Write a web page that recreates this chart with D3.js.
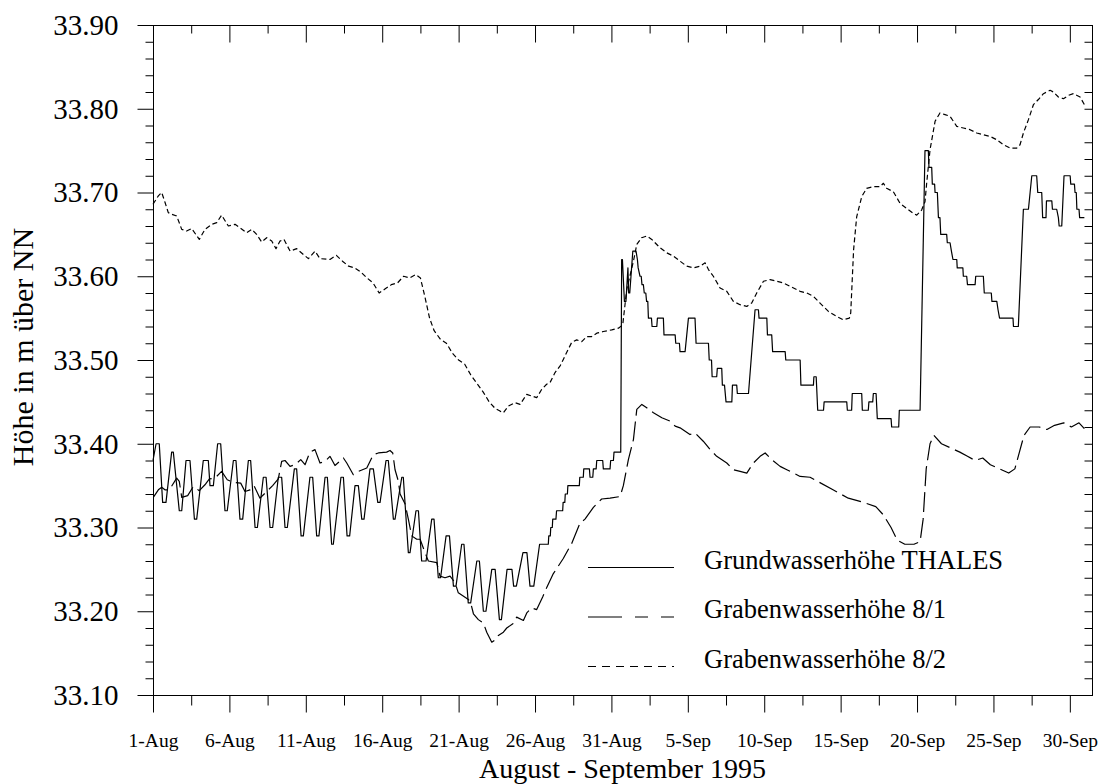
<!DOCTYPE html>
<html>
<head>
<meta charset="utf-8">
<title>Grundwasser- und Grabenwasserhöhe, August - September 1995</title>
<script src="https://cdn.jsdelivr.net/npm/d3@7"></script>
<style>
  body { margin: 0; background: #fff; }
  svg { display: block; font-family: "Liberation Serif", "Times New Roman", serif; }
</style>
</head>
<body>
<script>
// day offsets from 1 August 1995, 0:00
const dayTicks = [0, 5, 10, 15, 20, 25, 30, 35, 40, 45, 50, 55, 60];
const dateLabels = ["1-Aug", "6-Aug", "11-Aug", "16-Aug", "21-Aug", "26-Aug", "31-Aug",
    "5-Sep", "10-Sep", "15-Sep", "20-Sep", "25-Sep", "30-Sep"];
const levelTicks = [33.10, 33.20, 33.30, 33.40, 33.50, 33.60, 33.70, 33.80, 33.90];

const seriesNames = ["Grundwasserhöhe THALES", "Grabenwasserhöhe 8/1", "Grabenwasserhöhe 8/2"];

// [day, level in m]
const thales = [
    [0.00,33.38],[0.20,33.40],[0.41,33.40],[0.63,33.33],[0.85,33.33],[1.22,33.39],[1.33,33.39],
    [1.72,33.32],[1.88,33.32],[2.16,33.38],[2.42,33.38],[2.71,33.31],[2.86,33.31],[3.29,33.38],
    [3.62,33.38],[3.73,33.35],[3.95,33.35],[4.23,33.40],[4.43,33.40],[4.71,33.32],[4.86,33.32],
    [5.26,33.38],[5.43,33.38],[5.69,33.31],[5.87,33.31],[6.24,33.38],[6.39,33.38],[6.68,33.30],
    [6.83,33.30],[7.22,33.36],[7.40,33.36],[7.66,33.30],[7.83,33.30],[8.20,33.36],[8.42,33.36],
    [8.64,33.30],[8.79,33.30],[9.25,33.37],[9.40,33.37],[9.69,33.29],[9.84,33.29],[10.27,33.36],
    [10.45,33.36],[10.71,33.29],[10.86,33.29],[11.26,33.36],[11.41,33.36],[11.69,33.28],[11.80,33.28],
    [12.30,33.36],[12.46,33.36],[12.70,33.29],[12.87,33.29],[13.22,33.35],[13.44,33.35],[13.66,33.31],
    [13.81,33.31],[14.20,33.37],[14.42,33.37],[14.71,33.33],[14.86,33.33],[15.25,33.38],[15.40,33.38],
    [15.73,33.31],[15.84,33.31],[16.28,33.36],[16.38,33.36],[16.71,33.27],[16.82,33.27],[17.21,33.32],
    [17.37,33.32],[17.58,33.26],[17.87,33.26],[18.24,33.31],[18.39,33.31],[18.67,33.24],[18.82,33.24],
    [19.18,33.29],[19.40,33.29],[19.66,33.23],[19.83,33.23],[20.20,33.28],[20.35,33.28],[20.63,33.21],
    [20.79,33.21],[21.19,33.26],[21.36,33.26],[21.62,33.20],[21.79,33.20],[22.17,33.25],[22.39,33.25],
    [22.67,33.19],[22.80,33.19],[23.17,33.25],[23.49,33.25],[23.60,33.23],[23.78,33.23],[24.21,33.27],
    [24.47,33.27],[24.67,33.23],[24.92,33.23],[25.30,33.28],[25.87,33.28],[25.90,33.29],[26.00,33.29],
    [26.03,33.30],[26.13,33.30],[26.16,33.31],[26.37,33.31],[26.41,33.32],[26.81,33.32],[26.84,33.33],
    [26.95,33.33],[26.98,33.34],[27.12,33.34],[27.15,33.35],[27.90,33.35],[27.93,33.36],[28.16,33.36],
    [28.19,33.37],[28.56,33.37],[28.60,33.36],[28.78,33.36],[28.82,33.37],[29.00,33.37],[29.04,33.38],
    [29.43,33.38],[29.47,33.37],[29.91,33.37],[29.95,33.38],[30.13,33.38],[30.17,33.39],[30.61,33.39],
    [30.67,33.62],[30.72,33.62],[30.85,33.57],[30.95,33.57],[31.08,33.61],[31.13,33.58],[31.20,33.58],
    [31.40,33.63],[31.61,33.63],[31.70,33.62],[31.75,33.61],[31.87,33.60],[31.95,33.60],[32.00,33.59],
    [32.09,33.59],[32.15,33.58],[32.25,33.58],[32.30,33.57],[32.38,33.57],[32.42,33.55],[32.62,33.55],
    [32.66,33.54],[32.97,33.54],[33.01,33.55],[33.40,33.55],[33.44,33.53],[34.17,33.53],[34.21,33.52],
    [34.45,33.52],[34.49,33.51],[34.82,33.51],[35.04,33.55],[35.47,33.55],[35.54,33.52],[36.35,33.52],
    [36.40,33.50],[36.55,33.50],[36.59,33.48],[36.89,33.48],[36.93,33.49],[37.22,33.49],[37.26,33.47],
    [37.40,33.47],[37.50,33.45],[37.88,33.45],[37.92,33.47],[38.20,33.47],[38.24,33.46],[38.97,33.46],
    [39.40,33.56],[39.62,33.56],[39.66,33.55],[40.17,33.55],[40.21,33.53],[40.49,33.53],[40.55,33.51],
    [41.37,33.51],[41.41,33.50],[42.35,33.50],[42.40,33.47],[43.22,33.47],[43.25,33.48],[43.40,33.48],
    [43.50,33.44],[43.88,33.44],[43.92,33.45],[45.40,33.45],[45.44,33.44],[45.72,33.44],[45.76,33.46],
    [46.38,33.46],[46.42,33.44],[46.81,33.44],[46.85,33.45],[47.10,33.45],[47.14,33.46],[47.32,33.46],
    [47.40,33.43],[48.30,33.43],[48.34,33.42],[48.80,33.42],[48.84,33.44],[50.20,33.44],[50.52,33.75],
    [50.74,33.75],[50.78,33.73],[50.96,33.73],[51.00,33.71],[51.15,33.71],[51.18,33.70],[51.33,33.70],
    [51.40,33.67],[51.50,33.67],[51.55,33.65],[51.94,33.65],[51.98,33.64],[52.16,33.64],[52.25,33.63],
    [52.35,33.62],[52.60,33.62],[52.63,33.61],[53.00,33.61],[53.03,33.60],[53.25,33.60],[53.30,33.59],
    [53.80,33.59],[53.84,33.60],[54.34,33.60],[54.40,33.58],[54.86,33.58],[54.90,33.57],[55.22,33.57],
    [55.30,33.56],[55.40,33.55],[56.28,33.55],[56.31,33.54],[56.63,33.54],[56.96,33.68],[57.29,33.68],
    [57.40,33.70],[57.51,33.72],[57.83,33.72],[57.90,33.70],[58.16,33.70],[58.22,33.67],[58.44,33.67],
    [58.47,33.69],[58.82,33.69],[58.86,33.68],[59.14,33.68],[59.25,33.67],[59.30,33.66],[59.47,33.66],
    [59.62,33.72],[60.02,33.72],[60.06,33.71],[60.30,33.71],[60.34,33.70],[60.42,33.70],[60.46,33.68],
    [60.60,33.68],[60.64,33.67],[60.95,33.67]
];

const graben81 = [
    [0.02,33.336],[0.35,33.345],[0.57,33.348],[0.78,33.345],[1.07,33.345],[1.55,33.359],[1.72,33.355],
    [1.88,33.336],[2.27,33.338],[2.64,33.349],[3.03,33.344],[3.40,33.351],[3.69,33.358],[4.06,33.359],
    [4.49,33.367],[4.86,33.357],[5.26,33.354],[5.74,33.353],[6.02,33.343],[6.35,33.345],[6.61,33.350],
    [7.00,33.335],[7.44,33.343],[7.83,33.350],[8.20,33.358],[8.42,33.379],[8.64,33.380],[8.97,33.373],
    [9.29,33.375],[9.67,33.381],[9.95,33.375],[10.27,33.390],[10.60,33.393],[10.93,33.377],[11.26,33.379],
    [11.58,33.385],[11.91,33.374],[12.46,33.383],[12.68,33.377],[13.11,33.363],[13.44,33.367],[13.99,33.371],
    [14.42,33.387],[14.75,33.389],[15.29,33.390],[15.51,33.392],[15.69,33.389],[15.84,33.369],[16.06,33.355],
    [16.17,33.340],[16.50,33.328],[16.71,33.310],[16.93,33.290],[17.26,33.286],[17.48,33.286],[17.80,33.270],
    [18.02,33.260],[18.57,33.258],[18.78,33.242],[19.11,33.240],[19.44,33.242],[19.77,33.234],[19.98,33.222],
    [20.64,33.214],[20.79,33.210],[20.97,33.197],[21.29,33.190],[21.62,33.186],[21.84,33.175],[22.17,33.163],
    [22.49,33.167],[22.60,33.171],[22.93,33.175],[23.15,33.180],[23.55,33.185],[23.80,33.193],[24.24,33.189],
    [24.46,33.198],[24.78,33.204],[25.11,33.202],[25.50,33.217],[25.76,33.228],[26.20,33.245],[26.85,33.263],
    [27.40,33.281],[27.94,33.305],[28.27,33.310],[28.82,33.324],[29.36,33.334],[29.91,33.335],[30.57,33.337],
    [30.78,33.350],[31.11,33.381],[31.44,33.405],[31.66,33.441],[31.99,33.447],[32.31,33.443],[32.75,33.437],
    [33.30,33.431],[33.84,33.427],[34.17,33.421],[34.49,33.419],[35.14,33.411],[35.47,33.413],[36.01,33.403],
    [36.46,33.393],[36.89,33.385],[37.55,33.377],[37.98,33.369],[38.42,33.367],[38.86,33.365],[39.29,33.377],
    [39.73,33.385],[40.06,33.389],[40.49,33.381],[41.04,33.373],[41.48,33.369],[41.91,33.365],[42.35,33.361],
    [43.00,33.360],[43.50,33.355],[44.50,33.345],[45.50,33.335],[46.50,33.330],[47.30,33.325],[47.80,33.315],
    [48.30,33.300],[48.70,33.285],[49.20,33.280],[49.80,33.280],[50.20,33.283],[50.40,33.310],[50.60,33.370],
    [50.85,33.400],[51.10,33.410],[51.60,33.400],[52.20,33.395],[52.80,33.390],[53.30,33.385],[53.80,33.380],
    [54.30,33.383],[54.80,33.375],[55.40,33.370],[56.00,33.365],[56.40,33.370],[56.70,33.390],[57.00,33.410],
    [57.40,33.420],[58.00,33.420],[58.50,33.417],[59.00,33.422],[59.60,33.425],[60.10,33.420],[60.60,33.425],
    [60.95,33.418]
];

const graben82 = [
    [0.00,33.686],[0.35,33.696],[0.57,33.700],[0.79,33.688],[1.00,33.676],[1.22,33.674],[1.55,33.672],
    [1.88,33.656],[2.20,33.654],[2.53,33.657],[3.03,33.644],[3.40,33.656],[3.84,33.662],[4.17,33.664],
    [4.49,33.673],[4.93,33.660],[5.37,33.662],[5.69,33.658],[6.13,33.652],[6.46,33.656],[6.78,33.650],
    [7.11,33.641],[7.44,33.646],[7.77,33.642],[8.05,33.633],[8.31,33.642],[8.57,33.644],[8.97,33.630],
    [9.40,33.633],[9.84,33.626],[10.17,33.621],[10.60,33.630],[10.93,33.621],[11.58,33.620],[12.00,33.625],
    [12.40,33.618],[12.80,33.612],[13.20,33.610],[13.60,33.605],[14.00,33.598],[14.40,33.592],[14.80,33.580],
    [15.20,33.585],[15.60,33.590],[16.00,33.592],[16.40,33.600],[16.80,33.598],[17.20,33.602],[17.50,33.598],
    [17.80,33.575],[18.10,33.550],[18.40,33.535],[18.80,33.525],[19.20,33.520],[19.60,33.508],[20.00,33.500],
    [20.40,33.495],[20.80,33.482],[21.20,33.472],[21.60,33.462],[22.00,33.450],[22.40,33.442],[22.71,33.439],
    [22.93,33.437],[23.26,33.445],[23.69,33.449],[24.02,33.447],[24.46,33.459],[24.78,33.457],[25.11,33.455],
    [25.44,33.465],[25.76,33.471],[25.98,33.473],[26.31,33.485],[26.64,33.493],[26.86,33.501],[27.07,33.509],
    [27.40,33.521],[27.73,33.524],[28.06,33.522],[28.38,33.528],[28.71,33.528],[29.04,33.532],[29.47,33.534],
    [30.02,33.536],[30.46,33.538],[30.74,33.542],[31.00,33.584],[31.44,33.618],[31.66,33.638],[31.98,33.646],
    [32.31,33.648],[32.64,33.644],[33.18,33.634],[33.62,33.628],[34.06,33.624],[34.49,33.618],[34.93,33.612],
    [35.37,33.610],[35.80,33.612],[36.13,33.616],[36.35,33.608],[36.67,33.600],[37.11,33.586],[37.55,33.582],
    [37.98,33.570],[38.42,33.566],[38.86,33.564],[39.18,33.568],[39.51,33.580],[39.95,33.594],[40.38,33.596],
    [40.82,33.594],[41.26,33.592],[41.69,33.588],[42.35,33.582],[42.78,33.580],[43.22,33.576],[43.65,33.568],
    [44.20,33.558],[44.74,33.552],[45.18,33.548],[45.57,33.550],[45.66,33.556],[45.75,33.592],[45.85,33.632],
    [46.05,33.671],[46.38,33.695],[46.70,33.705],[47.14,33.707],[47.58,33.707],[47.80,33.711],[48.01,33.705],
    [48.45,33.701],[48.89,33.687],[49.32,33.681],[49.76,33.675],[49.98,33.673],[50.30,33.679],[50.52,33.689],
    [50.63,33.711],[50.85,33.751],[51.18,33.785],[51.50,33.795],[51.83,33.793],[52.16,33.791],[52.60,33.779],
    [53.03,33.777],[53.47,33.775],[53.91,33.771],[54.34,33.769],[54.78,33.767],[55.22,33.763],[55.65,33.757],
    [56.09,33.753],[56.52,33.753],[56.74,33.757],[56.96,33.771],[57.29,33.787],[57.62,33.805],[57.94,33.811],
    [58.27,33.818],[58.71,33.822],[58.92,33.820],[59.25,33.814],[59.58,33.812],[59.91,33.816],[60.23,33.818],
    [60.67,33.814],[60.95,33.805]
];

const width = 1101;
const height = 784;
const plotLeft = 153, plotRight = 1092, plotTop = 25, plotBottom = 695;

const svg = d3.select("body")
    .append("svg")
    .attr("width", width)
    .attr("height", height);

const x = d3.scaleLinear().domain([0, 61.45]).range([plotLeft, plotRight]);
const y = d3.scaleLinear().domain([33.10, 33.90]).range([plotBottom, plotTop]);

const dayMinor = dayTicks.map(d => d + 2.5).filter(d => d < 61.45);
const levelAll = d3.range(0, 41).map(i => 33.10 + i * 0.02);
const levelMinor = levelAll.filter(v => levelTicks.every(t => Math.abs(t - v) > 1e-6));

// axes keep the page serif font and black ticks, no domain path
const styleAxis = g => {
    g.attr("font-family", null).attr("font-size", null);
    g.select(".domain").remove();
    g.selectAll("line").attr("stroke", "#000").attr("stroke-width", 1);
};

// left axis: outward ticks, labels every 0.10 m
svg.append("g")
    .attr("transform", `translate(${plotLeft + 0.5},0)`)
    .call(d3.axisLeft(y).tickValues(levelMinor).tickSize(8).tickFormat(""))
    .call(styleAxis);

svg.append("g")
    .attr("transform", `translate(${plotLeft + 0.5},0)`)
    .call(d3.axisLeft(y).tickValues(levelTicks).tickSize(16).tickPadding(19).tickFormat(d3.format(".2f")))
    .call(styleAxis)
    .call(g => g.selectAll("text")
        .attr("fill", "#000")
        .style("font-size", "29px"));

// right axis: short inward ticks
svg.append("g")
    .attr("transform", `translate(${plotRight + 0.5},0)`)
    .call(d3.axisRight(y).tickValues(levelAll).tickSize(-8).tickFormat(""))
    .call(styleAxis);

// bottom axis: outward ticks with date labels
svg.append("g")
    .attr("transform", `translate(0,${plotBottom + 0.5})`)
    .call(d3.axisBottom(x).tickValues(dayMinor).tickSize(10).tickFormat(""))
    .call(styleAxis);

svg.append("g")
    .attr("transform", `translate(0,${plotBottom + 0.5})`)
    .call(d3.axisBottom(x).tickValues(dayTicks).tickSize(17)
        .tickFormat((d, i) => dateLabels[i]))
    .call(styleAxis)
    .call(g => g.selectAll("text")
        .attr("y", 51.5)
        .attr("dy", null)
        .attr("fill", "#000")
        .style("font-size", "19.5px"));

// top axis: inward ticks
svg.append("g")
    .attr("transform", `translate(0,${plotTop + 0.5})`)
    .call(d3.axisTop(x).tickValues(dayMinor).tickSize(-8).tickFormat(""))
    .call(styleAxis);

svg.append("g")
    .attr("transform", `translate(0,${plotTop + 0.5})`)
    .call(d3.axisTop(x).tickValues(dayTicks).tickSize(-17).tickFormat(""))
    .call(styleAxis);

// frame
svg.append("rect")
    .attr("x", plotLeft + 0.5)
    .attr("y", plotTop + 0.5)
    .attr("width", plotRight - plotLeft)
    .attr("height", plotBottom - plotTop)
    .attr("fill", "none")
    .attr("stroke", "#000")
    .attr("stroke-width", 1);

const line = d3.line()
    .x(d => x(d[0]))
    .y(d => y(d[1]));

const series = [
    { data: thales, dash: null, legendDash: null },
    { data: graben81, dash: "20,6", legendDash: "34,13,13,13,13,13" },
    { data: graben82, dash: "5,3", legendDash: "8,6" }
];

svg.append("g")
    .selectAll("path")
    .data(series)
    .enter()
    .append("path")
    .attr("d", s => line(s.data))
    .attr("fill", "none")
    .attr("stroke", "#000")
    .attr("stroke-width", 1.2)
    .attr("stroke-linejoin", "round")
    .attr("stroke-dasharray", s => s.dash);

// legend
const legend = svg.append("g")
    .selectAll("g")
    .data(series)
    .enter()
    .append("g")
    .attr("transform", (d, i) => `translate(588,${567.5 + i * 49.5})`);

legend.append("line")
    .attr("x1", 0)
    .attr("x2", 86)
    .attr("stroke", "#000")
    .attr("stroke-width", 1.2)
    .attr("stroke-dasharray", s => s.legendDash);

legend.append("text")
    .attr("x", 116)
    .attr("y", 1)
    .style("font-size", "26.5px")
    .text((d, i) => seriesNames[i]);

// axis titles
svg.append("text")
    .attr("transform", "translate(22,347) rotate(-90)")
    .attr("text-anchor", "middle")
    .attr("dy", "0.35em")
    .style("font-size", "30px")
    .text("Höhe in m über NN");

svg.append("text")
    .attr("x", (plotLeft + plotRight) / 2)
    .attr("y", 777.5)
    .attr("text-anchor", "middle")
    .style("font-size", "28px")
    .text("August - September 1995");
</script>
</body>
</html>
